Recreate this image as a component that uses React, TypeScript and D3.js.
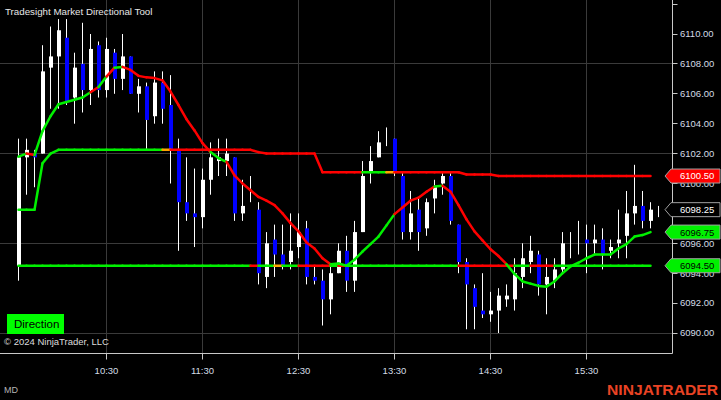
import * as d3 from "d3";

// 5-minute bars from 09:35
const barStart = "09:35";
const barEnd = "16:15";
const timeTicks = ["10:30", "11:30", "12:30", "13:30", "14:30", "15:30"];

const opens = [
  6094.5, 6101.75, 6102.0, 6102.0, 6107.75, 6108.5, 6109.75, 6105.75, 6108.0, 6106.25,
  6109.25, 6106.25, 6108.75, 6107.0, 6108.5, 6106.0, 6106.5, 6104.5, 6106.75, 6105.25,
  6102.25, 6098.75, 6098.0, 6097.75, 6100.25, 6101.5, 6101.5, 6101.75, 6098.0, 6099.25,
  6098.25, 6093.75, 6096.25, 6095.25, 6094.75, 6095.75, 6097.0, 6093.75, 6093.5, 6092.25,
  6094.0, 6095.5, 6093.5, 6096.75, 6100.75, 6101.75, 6103.0, 6103.0, 6100.5, 6096.75,
  6098.25, 6097.0, 6099.0, 6100.0, 6100.5, 6097.25, 6094.75, 6093.0, 6091.5, 6091.25,
  6091.5, 6092.25, 6092.25, 6093.75, 6094.75, 6095.25, 6093.25, 6093.5, 6094.25, 6095.75,
  6096.0, 6096.25, 6096.0, 6096.25, 6095.5, 6096.0, 6096.5, 6098.0, 6098.5, 6097.5,
  6098.25,
];
const highs = [
  6103.0, 6103.0, 6102.25, 6109.25, 6110.5, 6111.0, 6111.0, 6108.75, 6110.75, 6110.0,
  6109.5, 6109.75, 6109.0, 6110.0, 6108.5, 6107.0, 6106.75, 6107.5, 6107.5, 6107.25,
  6103.0, 6101.75, 6101.0, 6101.0, 6102.75, 6103.0, 6103.0, 6101.75, 6100.25, 6100.5,
  6098.75, 6096.75, 6097.25, 6097.25, 6098.0, 6098.0, 6097.5, 6094.5, 6094.25, 6094.5,
  6096.0, 6096.5, 6097.5, 6101.5, 6102.5, 6103.5, 6103.75, 6103.0, 6100.75, 6099.5,
  6099.0, 6099.0, 6100.25, 6100.75, 6100.75, 6097.25, 6095.0, 6093.25, 6094.0, 6092.75,
  6093.0, 6093.25, 6095.0, 6096.0, 6096.5, 6095.5, 6095.0, 6095.0, 6096.75, 6096.75,
  6097.5, 6097.25, 6097.25, 6097.0, 6096.25, 6098.25, 6099.5, 6101.25, 6099.5, 6098.75,
  6098.5,
];
const lows = [
  6093.5, 6099.25, 6099.75, 6102.0, 6105.0, 6105.0, 6105.25, 6104.0, 6104.75, 6105.25,
  6105.75, 6105.75, 6106.0, 6106.25, 6106.0, 6104.75, 6102.25, 6104.0, 6104.0, 6100.0,
  6095.5, 6097.5, 6095.75, 6097.0, 6099.25, 6100.5, 6100.5, 6097.5, 6097.5, 6098.75,
  6093.25, 6093.0, 6093.75, 6094.25, 6094.25, 6095.0, 6093.25, 6093.25, 6090.5, 6091.25,
  6094.0, 6092.75, 6092.75, 6096.75, 6100.0, 6101.75, 6102.5, 6100.5, 6096.25, 6096.25,
  6095.5, 6096.5, 6098.0, 6099.25, 6097.25, 6094.0, 6090.25, 6090.25, 6091.0, 6090.75,
  6090.0, 6091.75, 6091.5, 6093.0, 6094.0, 6092.5, 6091.25, 6093.0, 6094.0, 6095.0,
  6095.25, 6094.0, 6095.25, 6094.25, 6095.0, 6095.0, 6095.0, 6097.25, 6097.0, 6097.0,
  6097.75,
];
const closes = [
  6101.75, 6102.25, 6101.75, 6107.5, 6108.5, 6110.25, 6105.5, 6107.75, 6106.25, 6109.0,
  6106.25, 6109.0, 6107.0, 6108.5, 6106.0, 6106.5, 6104.25, 6106.75, 6105.0, 6102.25,
  6098.75, 6098.0, 6097.75, 6100.25, 6101.75, 6101.75, 6102.0, 6098.0, 6098.5, 6099.25,
  6094.0, 6096.0, 6095.25, 6094.5, 6095.5, 6096.75, 6093.75, 6093.5, 6092.25, 6094.0,
  6095.5, 6093.5, 6096.75, 6100.5, 6101.5, 6102.75, 6103.0, 6100.75, 6096.75, 6098.0,
  6096.75, 6098.75, 6099.75, 6100.5, 6097.5, 6094.75, 6093.25, 6091.75, 6091.25, 6091.5,
  6092.5, 6092.5, 6094.0, 6095.0, 6095.5, 6093.25, 6093.75, 6094.25, 6096.0, 6095.75,
  6096.0, 6096.0, 6096.25, 6095.25, 6095.75, 6096.25, 6098.0, 6098.5, 6097.5, 6098.25,
  6098.25,
];

// Directional Tool plots (one value per bar, bars 0..79)
const fastLine = [
  6101.8, 6102.0, 6101.9, 6103.5, 6104.5, 6105.3, 6105.45, 6105.6, 6105.75, 6106.1,
  6106.45, 6107.15, 6107.75, 6107.8, 6107.6, 6107.2, 6107.1, 6107.05, 6106.9, 6106.15,
  6105.25, 6104.3, 6103.55, 6102.7, 6102.1, 6101.7, 6101.45, 6100.55, 6100.0, 6099.55,
  6099.1, 6098.85, 6098.55, 6098.0, 6097.35, 6096.8, 6096.05, 6095.65, 6095.0, 6094.6,
  6094.65, 6094.5, 6094.9, 6095.45, 6095.95, 6096.45, 6097.2, 6097.95, 6098.4, 6098.85,
  6099.05, 6099.45, 6099.8, 6099.85, 6099.45, 6098.55, 6097.6, 6096.8, 6096.2, 6095.6,
  6095.15, 6094.6, 6093.95, 6093.45, 6093.3, 6093.15, 6093.1, 6093.45, 6094.0, 6094.45,
  6094.7, 6095.0, 6095.25, 6095.25, 6095.25, 6095.65, 6095.95, 6096.45, 6096.55, 6096.75,
];
const upperLine = [
  6098.25, 6098.25, 6098.25, 6101.35, 6102.0, 6102.25, 6102.25, 6102.25, 6102.25, 6102.25,
  6102.25, 6102.25, 6102.25, 6102.25, 6102.25, 6102.25, 6102.25, 6102.25, 6102.25, 6102.25,
  6102.25, 6102.25, 6102.25, 6102.25, 6102.25, 6102.25, 6102.25, 6102.25, 6102.25, 6102.25,
  6102.1, 6102.0, 6102.0, 6102.0, 6102.0, 6102.0, 6102.0, 6102.0, 6100.75, 6100.75,
  6100.75, 6100.75, 6100.75, 6100.75, 6100.75, 6100.75, 6100.75, 6100.75, 6100.75, 6100.75,
  6100.75, 6100.75, 6100.75, 6100.75, 6100.75, 6100.75, 6100.6, 6100.6, 6100.6, 6100.6,
  6100.5, 6100.5, 6100.5, 6100.5, 6100.5, 6100.5, 6100.5, 6100.5, 6100.5, 6100.5,
  6100.5, 6100.5, 6100.5, 6100.5, 6100.5, 6100.5, 6100.5, 6100.5, 6100.5, 6100.5,
];
const lowerLine = [
  6094.5, 6094.5, 6094.5, 6094.5, 6094.5, 6094.5, 6094.5, 6094.5, 6094.5, 6094.5,
  6094.5, 6094.5, 6094.5, 6094.5, 6094.5, 6094.5, 6094.5, 6094.5, 6094.5, 6094.5,
  6094.5, 6094.5, 6094.5, 6094.5, 6094.5, 6094.5, 6094.5, 6094.5, 6094.5, 6094.5,
  6094.5, 6094.5, 6094.5, 6094.5, 6094.5, 6094.5, 6094.5, 6094.5, 6094.5, 6094.5,
  6094.5, 6094.5, 6094.5, 6094.5, 6094.5, 6094.5, 6094.5, 6094.5, 6094.5, 6094.5,
  6094.5, 6094.5, 6094.5, 6094.5, 6094.5, 6094.5, 6094.5, 6094.5, 6094.5, 6094.5,
  6094.5, 6094.5, 6094.5, 6094.5, 6094.5, 6094.5, 6094.5, 6094.5, 6094.5, 6094.5,
  6094.5, 6094.5, 6094.5, 6094.5, 6094.5, 6094.5, 6094.5, 6094.5, 6094.5, 6094.5,
];

// colour of the segment ending at each bar: g = up, r = down, o = neutral
const fastColors =
  "-gr" + "ggggggg" + "rgrg" + "rrrrrrrrrrr" + "gg" + "rrrrrrrrrrrrr" +
  "gg" + "gggggg" + "rrrrr" + "g" + "rrrrrrrr" + "gggggggggggggggggg";
const upperColors =
  "-" + "gggggggggggggggggg" + "o" + "rrrrrrrrrrrrrrrrrrrrrrrr" + "ggg" + "o" +
  "rrrrrrrrrrrrrrrrrrrrrrrrrrrrrrrr";
const lowerColors =
  "-" + "ggggggggggggggggggggggggggggg" + "r" + "gg" + "o" + "gg" + "rrrr" + "g" + "r" +
  "gggggggggggggg" + "rrrrrrr" + "gg" + "rrr" + "gggggggggggg";

const palette: { [k: string]: string } = { g: "#00f000", r: "#ff0000", o: "#ffa500" };
const font = "'Liberation Sans', Arial, sans-serif";

const parse = d3.timeParse("%H:%M");

export default function App() {
  const width = 721, height = 400;
  const axisX = 672.5, axisY = 353.5;

  const t0 = parse(barStart) as Date;
  const x = d3.scaleTime()
    .domain([t0, parse(barEnd) as Date])
    .range([18.5, 658.5]);
  const y = d3.scaleLinear().domain([6090, 6110]).range([333, 34]);
  const barX = (i: number) => x(d3.timeMinute.offset(t0, 5 * i));
  const snap = (v: number) => Math.floor(v) + 0.5;

  const gridPrices = [6090, 6096, 6102, 6108];
  const priceTicks = d3.range(6090, 6113, 2);
  const fmt = d3.format(".2f");
  const tickDates = timeTicks.map((s) => parse(s) as Date);

  const line = d3.line<[number, number]>();

  // each bar-to-bar piece gets its own colour
  const segments = (vals: number[], colors: string, key: string) =>
    vals.slice(1).map((v, k) => {
      const i = k + 1;
      const d = line([
        [barX(i - 1), y(vals[i - 1])],
        [barX(i), y(v)],
      ]);
      return (
        <path key={key + i} d={d || ""} fill="none" stroke={palette[colors[i]]}
          strokeWidth={2.5} strokeLinecap="round" />
      );
    });

  const last = fastLine.length - 1;
  const flags = [
    { v: upperLine[last], fill: palette[upperColors[last]], text: "#ffffff" },
    { v: closes[closes.length - 1], fill: "#000000", text: "#ffffff" },
    { v: fastLine[last], fill: palette[fastColors[last]], text: "#000000" },
    { v: lowerLine[last], fill: palette[lowerColors[last]], text: "#000000" },
  ];

  return (
    <svg width={width} height={height} style={{ position: "absolute", left: 0, top: 0, display: "block" }}
      fontFamily={font}>
      <rect width={width} height={height} fill="#000000" />

      {/* grid */}
      {gridPrices.map((p) => (
        <line key={"gy" + p} x1={0} x2={axisX} y1={snap(y(p))} y2={snap(y(p))} stroke="#3a3a3a" />
      ))}
      {tickDates.map((d, k) => (
        <line key={"gx" + k} x1={snap(x(d))} x2={snap(x(d))} y1={0} y2={axisY} stroke="#3a3a3a" />
      ))}

      {/* candles */}
      {closes.map((c, i) => {
        const cx = barX(i);
        const o = opens[i];
        const top = y(Math.max(o, c));
        const bot = y(Math.min(o, c));
        return (
          <g key={"c" + i}>
            <line x1={cx} x2={cx} y1={y(highs[i])} y2={y(lows[i])} stroke="#ffffff" strokeWidth={1} />
            {bot - top > 0.5 && (
              <rect x={cx - 1.5} width={4} y={top} height={bot - top}
                fill={c >= o ? "#ffffff" : "#0000ff"} />
            )}
          </g>
        );
      })}

      {/* indicator plots */}
      {segments(lowerLine, lowerColors, "lo")}
      {segments(upperLine, upperColors, "up")}
      {segments(fastLine, fastColors, "fa")}

      {/* axes */}
      <line x1={axisX} x2={axisX} y1={0} y2={axisY} stroke="#c8c8c8" />
      <line x1={0} x2={axisX} y1={axisY} y2={axisY} stroke="#c8c8c8" />
      {priceTicks.map((p) => (
        <g key={"pt" + p}>
          <line x1={axisX} x2={axisX + 5} y1={snap(y(p))} y2={snap(y(p))} stroke="#c8c8c8" />
          {p <= 6110 && (
            <text x={680} y={y(p)} dy="0.35em" fontSize={9.5} fill="#d4dce6">{fmt(p)}</text>
          )}
        </g>
      ))}
      {tickDates.map((d, k) => (
        <g key={"tt" + k}>
          <line x1={snap(x(d))} x2={snap(x(d))} y1={axisY} y2={axisY + 6} stroke="#c8c8c8" />
          <text x={x(d)} y={371} dy="0.35em" textAnchor="middle" fontSize={9.5} fill="#d4dce6">
            {timeTicks[k]}
          </text>
        </g>
      ))}

      {/* price markers, drawn over the axis labels like the platform does */}
      {flags.map((f, k) => {
        const cy = y(f.v);
        const h = 7;
        return (
          <g key={"fl" + k}>
            <path d={`M665,${cy} L671,${cy - h} L720,${cy - h} L720,${cy + h} L671,${cy + h} Z`}
              fill={f.fill} stroke="#a0a0a0" strokeWidth={1} />
            <text x={680} y={cy} dy="0.36em" fontSize={9.5} fill={f.text}>{fmt(f.v)}</text>
          </g>
        );
      })}

      {/* labels */}
      <text x={5} y={14.5} fontSize={9.75} fill="#e6e6e6">Tradesight Market Directional Tool</text>
      <rect x={7} y={314} width={57} height={20} fill="#00ff00" />
      <text x={14} y={324} dy="0.35em" fontSize={11.5} fill="#000000">Direction</text>
      <text x={4} y={342} dy="0.35em" fontSize={9.5} fill="#dcdcdc">© 2024 NinjaTrader, LLC</text>
      <text x={4} y={390} dy="0.35em" fontSize={9} fill="#b4b4b4">MD</text>
      <text x={607} y={390} dy="0.36em" fontSize={15} fontWeight="bold" fill="#ea4324"
        textLength={111} lengthAdjust="spacingAndGlyphs">NINJATRADER</text>
    </svg>
  );
}
